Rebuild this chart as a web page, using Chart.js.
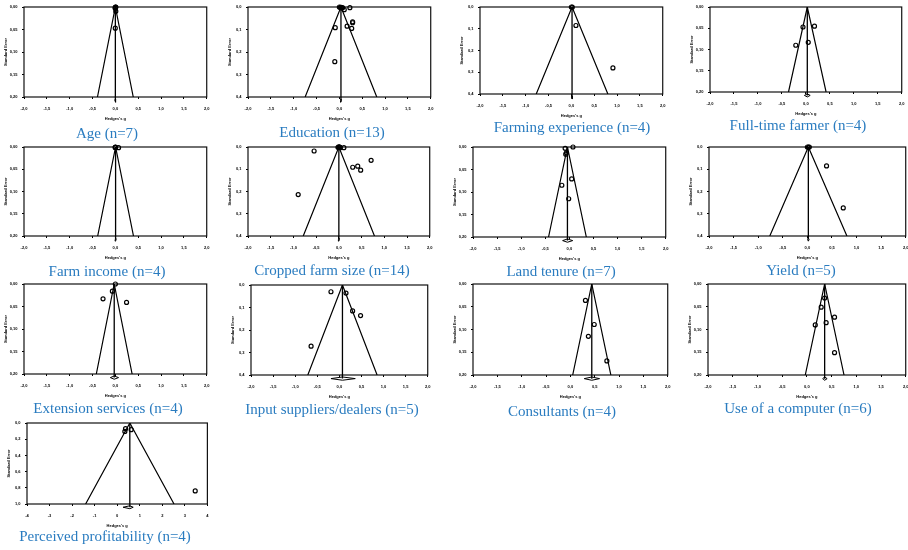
<!DOCTYPE html>
<html lang="en">
<head>
<meta charset="UTF-8">
<title>Funnel plots of Hedges's g by determinant</title>
<script src="https://cdn.jsdelivr.net/npm/chart.js"></script>
<style>
  body { margin: 0; width: 908px; height: 550px; overflow: hidden; background: #fff; position: relative; }
  .panel { position: absolute; }
  .caption { position: absolute; transform: translate(-50%, -50%); white-space: nowrap;
             font: 15px "Liberation Serif", serif; color: #2a7cc0; }
</style>
</head>
<body>
<script>
// one funnel plot per determinant
const titles = ['Age (n=7)', 'Education (n=13)', 'Farming experience (n=4)', 'Full-time farmer (n=4)',
                'Farm income (n=4)', 'Cropped farm size (n=14)', 'Land tenure (n=7)', 'Yield (n=5)',
                'Extension services (n=4)', 'Input suppliers/dealers (n=5)', 'Consultants (n=4)', 'Use of a computer (n=6)',
                'Perceived profitability (n=4)'];
const xLimit = [2, 2, 2, 2, 2, 2, 2, 2, 2, 2, 2, 2, 4];
const xStep  = [0.5, 0.5, 0.5, 0.5, 0.5, 0.5, 0.5, 0.5, 0.5, 0.5, 0.5, 0.5, 1];
const seMax  = [0.2, 0.4, 0.4, 0.2, 0.2, 0.4, 0.2, 0.4, 0.2, 0.4, 0.2, 0.2, 1.0];
const seStep = [0.05, 0.1, 0.1, 0.05, 0.05, 0.1, 0.05, 0.1, 0.05, 0.1, 0.05, 0.05, 0.2];
const pooledG = [0.0, 0.035, 0.015, 0.03, 0.005, 0.0, -0.04, 0.02, -0.025, 0.07, 0.44, 0.36, 0.56];
const ciLow   = [-0.01, 0.025, 0.005, -0.03, -0.005, -0.01, -0.14, 0.005, -0.11, -0.19, 0.285, 0.32, 0.26];
const ciHigh  = [0.01, 0.045, 0.025, 0.09, 0.015, 0.01, 0.07, 0.035, 0.07, 0.36, 0.6, 0.41, 0.71];

const hedgesG = [
  [0.0, 0.005, -0.005, 0.01, 0.0, 0.01, -0.002],
  [0.0, 0.02, 0.04, 0.05, 0.07, 0.107, 0.23, -0.09, 0.17, 0.29, 0.29, 0.27, -0.1],
  [0.0, 0.02, 0.1, 0.91],
  [-0.06, 0.18, 0.05, -0.21],
  [0.0, 0.005, -0.005, 0.07],
  [-0.545, 0.0, 0.01, 0.02, -0.02, 0.03, 0.11, 0.305, 0.415, 0.48, 0.71, -0.895, 0.0, 0.015],
  [-0.088, 0.075, -0.061, -0.075, 0.048, -0.156, -0.014],
  [0.0, 0.02, 0.04, 0.39, 0.73],
  [0.0, -0.065, -0.27, 0.245],
  [-0.19, 0.15, 0.3, 0.48, -0.64],
  [0.31, 0.49, 0.37, 0.75],
  [0.36, 0.29, 0.56, 0.39, 0.17, 0.56],
  [0.37, 0.34, 0.62, 3.46]
];
const stdErr = [
  [0.0, 0.001, 0.002, 0.0, 0.003, 0.0095, 0.047],
  [0.0, 0.002, 0.001, 0.004, 0.003, 0.012, 0.003, 0.092, 0.085, 0.066, 0.07, 0.095, 0.243],
  [0.0, 0.001, 0.085, 0.28],
  [0.047, 0.045, 0.083, 0.09],
  [0.0, 0.001, 0.001, 0.0015],
  [0.018, 0.0, 0.001, 0.002, 0.001, 0.003, 0.003, 0.091, 0.086, 0.104, 0.06, 0.214, 0.002, 0.0],
  [0.003, 0.0, 0.013, 0.016, 0.071, 0.085, 0.115],
  [0.0, 0.001, 0.0, 0.085, 0.274],
  [0.0, 0.016, 0.033, 0.041],
  [0.03, 0.036, 0.115, 0.136, 0.272],
  [0.036, 0.089, 0.115, 0.169],
  [0.031, 0.051, 0.073, 0.085, 0.09, 0.151],
  [0.07, 0.104, 0.083, 0.838]
];

// page layout: plot box [left, top, right, bottom] and caption centre
const boxes = [
  [24, 7, 209, 97], [248, 7, 433, 97], [480, 7, 665, 94], [710, 7, 904, 92],
  [24, 147, 209, 236], [248, 147, 432, 236], [473, 147, 668, 237], [709, 147, 908, 236],
  [24, 284, 209, 374], [251, 285, 430, 375], [473, 284, 670, 375], [708, 284, 908, 375],
  [27, 423, 208, 504]
];
const captionAt = [
  [107, 133], [332, 132], [572, 127], [798, 125],
  [107, 271], [332, 270], [561, 271], [801, 270],
  [108, 408], [332, 409], [562, 411], [798, 408],
  [105, 536]
];

const frame = {
  id: 'frame',
  beforeDatasetsDraw(chart) {
    const a = chart.chartArea, ctx = chart.ctx;
    ctx.save();
    ctx.strokeStyle = '#111';
    ctx.lineWidth = 1.2;
    ctx.strokeRect(a.left, a.top, a.right - a.left, a.bottom - a.top);
    ctx.restore();
  }
};

const tinyFont = { size: 4, family: 'Liberation Sans', weight: 'bold' };

titles.forEach(function (title, i) {
  const [L, T, R, B] = boxes[i];
  const canvas = document.createElement('canvas');
  canvas.width = R - L + 32;
  canvas.height = B - T + 36;
  canvas.className = 'panel';
  canvas.style.left = (L - 24) + 'px';
  canvas.style.top = (T - 8) + 'px';
  document.body.appendChild(canvas);

  const cap = document.createElement('div');
  cap.className = 'caption';
  cap.textContent = title;
  cap.style.left = captionAt[i][0] + 'px';
  cap.style.top = captionAt[i][1] + 'px';
  document.body.appendChild(cap);

  const m = seMax[i], c = pooledG[i];
  const yd = m * 1.04, dh = m * 0.018;
  const points = hedgesG[i].map((g, k) => ({ x: g, y: stdErr[i][k] }));
  const xDec = xStep[i] < 1 ? 1 : 0;
  const yDec = seStep[i] < 0.1 ? 2 : 1;

  new Chart(canvas, {
    type: 'scatter',
    data: {
      datasets: [{
        data: [{ x: c - 1.96 * m, y: m }, { x: c, y: 0 }, { x: c + 1.96 * m, y: m }],
        showLine: true, borderColor: '#000', borderWidth: 1.2, pointRadius: 0
      }, {
        data: [{ x: c, y: 0 }, { x: c, y: yd }],
        showLine: true, borderColor: '#000', borderWidth: 1.3, pointRadius: 0, clip: false
      }, {
        data: [{ x: ciLow[i], y: yd }, { x: c, y: yd - dh }, { x: ciHigh[i], y: yd },
               { x: c, y: yd + dh }, { x: ciLow[i], y: yd }],
        showLine: true, borderColor: '#000', borderWidth: 1, pointRadius: 0, clip: false
      }, {
        data: points,
        pointRadius: 2, pointBorderWidth: 1.2, pointBorderColor: '#000',
        pointBackgroundColor: 'rgba(255,255,255,0)', clip: false
      }]
    },
    options: {
      responsive: false,
      animation: false,
      layout: { padding: { left: 0, top: 8, right: 8, bottom: 0 } },
      plugins: { legend: { display: false }, tooltip: { enabled: false } },
      scales: {
        x: {
          type: 'linear', min: -xLimit[i], max: xLimit[i],
          afterFit: s => { s.height = 28; },
          border: { display: false },
          grid: { drawOnChartArea: false, drawTicks: true, tickLength: 2, color: '#000' },
          ticks: { stepSize: xStep[i], autoSkip: false, maxRotation: 0, padding: 7.5, color: '#000', font: tinyFont,
                   callback: v => v.toFixed(xDec).replace('.', ',') },
          title: { display: true, text: "Hedges's g", color: '#000', font: tinyFont, padding: { top: 0, bottom: 4 } }
        },
        y: {
          type: 'linear', reverse: true, min: 0, max: m,
          afterFit: s => { s.width = 24; },
          border: { display: false },
          grid: { drawOnChartArea: false, drawTicks: true, tickLength: 2, color: '#000' },
          ticks: { stepSize: seStep[i], autoSkip: false, padding: 4.5, color: '#000', font: tinyFont,
                   callback: v => v.toFixed(yDec).replace('.', ',') },
          title: { display: true, text: 'Standard Error', color: '#000', font: tinyFont, padding: { top: 3.5, bottom: 0 } }
        }
      }
    },
    plugins: [frame]
  });
});
</script>
</body>
</html>
